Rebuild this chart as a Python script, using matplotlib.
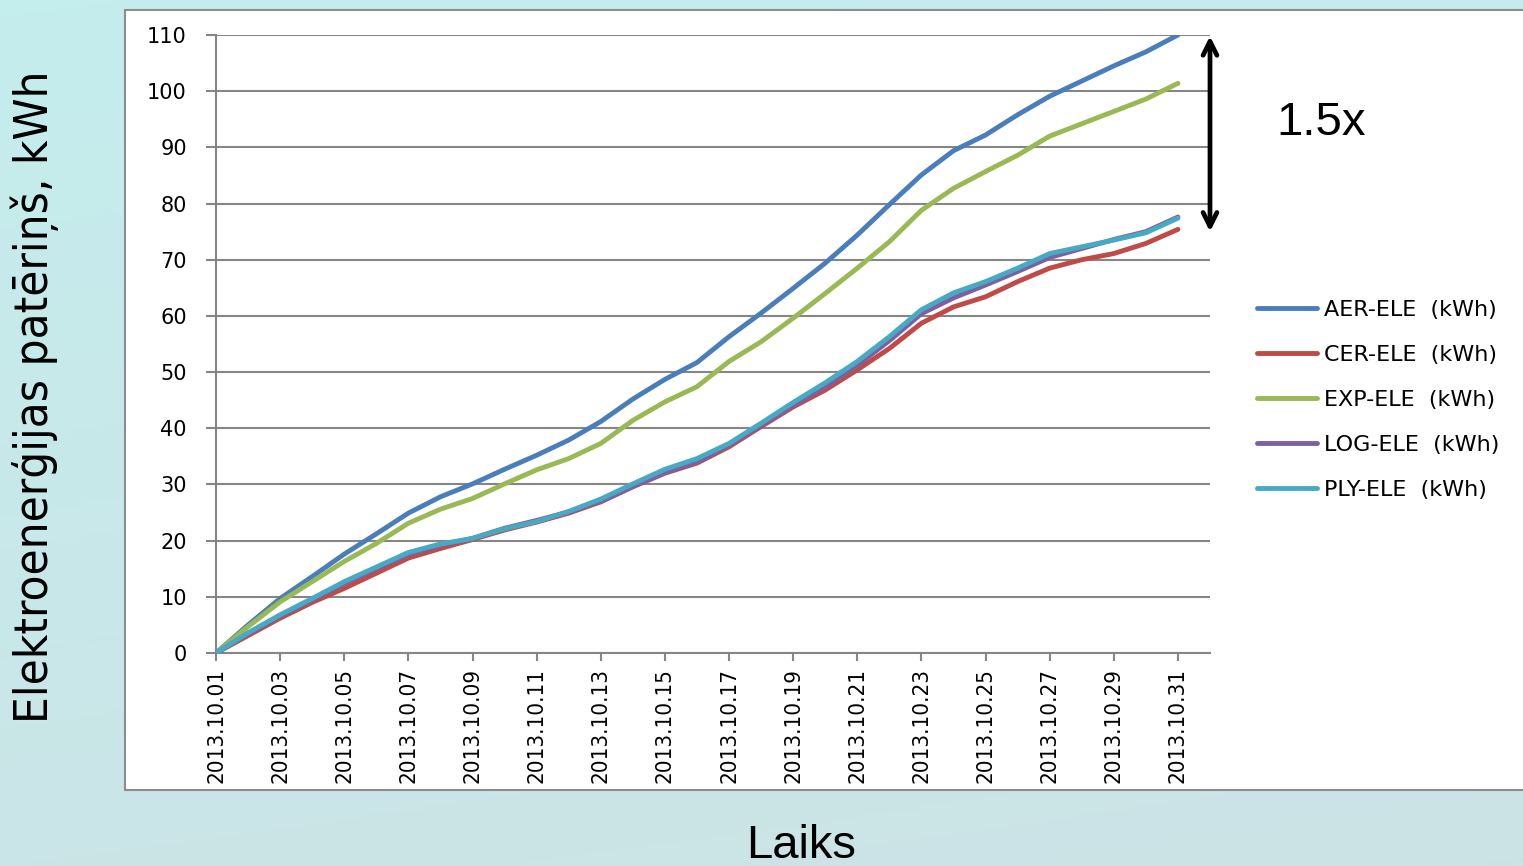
import numpy as np
import matplotlib
matplotlib.use("Agg")
import matplotlib.pyplot as plt
from matplotlib import font_manager as fm
from matplotlib.patches import Rectangle

# ---------------- data ----------------
dates = ["2013.10.%02d" % d for d in range(1, 32)]

aer = [0, 5.0, 9.7, 13.6, 17.6, 21.2, 24.9, 27.8, 30.1, 32.7, 35.2, 37.9, 41.2,
       45.2, 48.7, 51.7, 56.3, 60.5, 64.9, 69.4, 74.4, 79.8, 85.1, 89.4, 92.2,
       95.8, 99.1, 101.8, 104.5, 107.0, 110.0]
cer = [0, 3.1, 6.2, 9.0, 11.5, 14.2, 16.9, 18.6, 20.2, 21.9, 23.3, 24.9, 26.9,
       29.6, 32.0, 33.8, 36.7, 40.3, 43.8, 46.8, 50.4, 54.2, 58.7, 61.6, 63.4,
       66.1, 68.5, 70.0, 71.1, 72.9, 75.4]
exp_ = [0, 4.7, 9.1, 12.7, 16.3, 19.5, 23.1, 25.6, 27.5, 30.1, 32.6, 34.6, 37.3,
        41.4, 44.7, 47.4, 51.9, 55.4, 59.6, 64.0, 68.5, 73.2, 78.8, 82.7, 85.7,
        88.6, 92.0, 94.2, 96.4, 98.6, 101.4]
log_ = [0, 3.4, 6.6, 9.5, 12.4, 15.0, 17.6, 19.2, 20.4, 22.2, 23.6, 25.1, 27.0,
        29.6, 32.1, 34.0, 37.0, 40.5, 44.1, 47.4, 51.2, 55.6, 60.4, 63.2, 65.5,
        67.9, 70.4, 72.0, 73.6, 75.0, 77.6]
ply = [0, 3.6, 6.8, 9.7, 12.7, 15.3, 17.9, 19.4, 20.4, 22.1, 23.4, 25.2, 27.4,
       30.1, 32.7, 34.6, 37.3, 40.9, 44.6, 48.1, 51.9, 56.3, 61.1, 64.1, 66.1,
       68.5, 71.1, 72.3, 73.5, 74.8, 77.4]

series_names = ["AER-ELE  (kWh)", "CER-ELE  (kWh)", "EXP-ELE  (kWh)",
                "LOG-ELE  (kWh)", "PLY-ELE  (kWh)"]
series_values = [aer, cer, exp_, log_, ply]
colors = ["#4A7EBB", "#BE4B48", "#98B954", "#7D60A0", "#46AAC5"]

yticks = list(range(0, 111, 10))

# condensed font if available
narrow_file = None
for f in fm.fontManager.ttflist:
    if "Narrow" in f.name or ("Condensed" in f.name and "DejaVu Sans" in f.name) \
            or (f.name == "DejaVu Sans" and f.stretch in ("condensed", "semi-condensed")):
        if f.style == "normal" and f.weight in (400, "normal"):
            narrow_file = f.fname
            break

def narrow_props(size):
    if narrow_file:
        return fm.FontProperties(fname=narrow_file, size=size)
    return fm.FontProperties(family="DejaVu Sans", size=size * 0.9)

# ---------------- figure ----------------
W, H = 1523, 866
fig = plt.figure(figsize=(W / 100, H / 100), dpi=100)

# slide background gradient
bg = fig.add_axes([0, 0, 1, 1], zorder=-10)
yy, xx = np.mgrid[0:1:200j, 0:1:200j]
c_top = np.array([0.77, 0.93, 0.93])
c_bot = np.array([0.80, 0.89, 0.90])
t = (yy * 0.8 + xx * 0.2)[..., None]
img = c_top * (1 - t) + c_bot * t
bg.imshow(img, aspect="auto", extent=[0, 1, 0, 1], origin="upper")
bg.set_axis_off()

# white chart box
box = Rectangle((125 / W, 1 - 790 / H), (W - 125) / W + 0.01, (790 - 10) / H,
                transform=fig.transFigure, facecolor="white",
                edgecolor="#8c8c8c", lw=1.5, zorder=-5)
fig.patches.append(box)

L, R, T, B = 216, 1210, 35, 653
ax = fig.add_axes([L / W, 1 - B / H, (R - L) / W, (B - T) / H])
ax.set_facecolor("none")

x = np.arange(len(dates))
for name, vals, c in zip(series_names, series_values, colors):
    ax.plot(x, vals, color=c, lw=3.5, label=name, solid_capstyle="round",
            solid_joinstyle="round", zorder=3)

ax.set_xlim(0, 31)
ax.set_ylim(0, 110)
ax.set_yticks(yticks)
ax.set_yticklabels([str(v) for v in yticks], fontsize=15,
                   family="DejaVu Sans")
ax.yaxis.grid(True, color="#868686", lw=1.5)
ax.set_axisbelow(True)

ax.set_xticks(x[::2])
ax.set_xticklabels(dates[::2], rotation=90, fontproperties=narrow_props(16))

for s in ["top", "right"]:
    ax.spines[s].set_visible(False)
for s in ["left", "bottom"]:
    ax.spines[s].set_color("#868686")
    ax.spines[s].set_linewidth(1.5)

ax.tick_params(axis="y", length=7, width=1.5, color="#868686", pad=14)
ax.tick_params(axis="x", length=6, width=1.5, color="#868686", pad=5)

# axis titles
fig.text(35 / W, 1 - 397 / H, "Elektroenerģijas patēriņš, kWh", rotation=90,
         fontproperties=narrow_props(34), ha="center", va="center")
fig.text(801 / W, 1 - 846 / H, "Laiks", fontsize=34,
         family="Liberation Sans", ha="center", va="center")

# double arrow and annotation
ax.annotate("", xy=(31, 109.8), xytext=(31, 75.0), xycoords="data",
            arrowprops=dict(arrowstyle="<->,head_length=1.0,head_width=0.5",
                            color="black", lw=3.4, shrinkA=0, shrinkB=0),
            annotation_clip=False, zorder=5)
fig.text(1321 / W, 1 - 123 / H, "1.5x", fontsize=34, family="Liberation Sans",
         ha="center", va="center")

# legend
fig.legend(loc="center left", bbox_to_anchor=(1237 / W, 1 - 400 / H),
           frameon=False, handlelength=2.7, handletextpad=0.3,
           labelspacing=1.13, prop={"family": "DejaVu Sans", "size": 16})

fig.savefig("out.png", dpi=100)
